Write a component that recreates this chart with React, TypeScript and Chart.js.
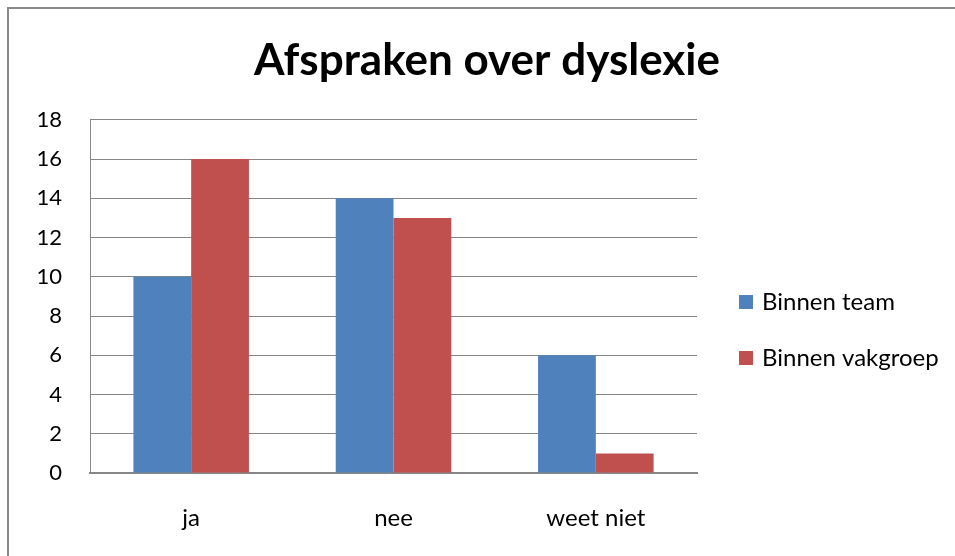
import React, { useEffect, useRef } from "react";
import { Chart, registerables } from "chart.js";

Chart.register(...registerables);

const categories = ["ja", "nee", "weet niet"];
const binnenTeam = [10, 14, 6];
const binnenVakgroep = [16, 13, 1];
const seriesNames = ["Binnen team", "Binnen vakgroep"];
const seriesColors = ["#4F81BD", "#C0504D"];
const yTicks = { min: 0, max: 18, step: 2 };

const FONT = "Lato, 'Liberation Sans', sans-serif";
const GRID = "#868686";

const framePlugin = {
  id: "frame",
  beforeDraw(chart: any) {
    const { ctx, width, height } = chart;
    ctx.save();
    ctx.fillStyle = "#ffffff";
    ctx.fillRect(0, 0, width, height);
    ctx.strokeStyle = "#8a8a8a";
    ctx.lineWidth = 2;
    ctx.beginPath();
    ctx.moveTo(8, height + 10);
    ctx.lineTo(8, 8);
    ctx.lineTo(width + 10, 8);
    ctx.stroke();
    ctx.restore();
  },
};

const sideLegendPlugin = {
  id: "sideLegend",
  afterDraw(chart: any) {
    const { ctx } = chart;
    const x0 = chart.chartArea.right + 42;
    const centerY = 330;
    const spacing = 56;
    const ds = chart.data.datasets;
    const startY = centerY - ((ds.length - 1) * spacing) / 2;
    ctx.save();
    ctx.font = `24px ${FONT}`;
    ctx.textBaseline = "middle";
    ctx.textAlign = "left";
    ds.forEach((d: any, i: number) => {
      const y = startY + i * spacing;
      ctx.fillStyle = d.backgroundColor;
      ctx.fillRect(x0, y - 7, 14, 14);
      ctx.fillStyle = "#000000";
      ctx.fillText(d.label, x0 + 23, y);
    });
    ctx.restore();
  },
};

export default function App() {
  const ref = useRef<HTMLCanvasElement>(null);

  useEffect(() => {
    document.body.style.margin = "0";
    const canvas = ref.current;
    if (!canvas) return;
    const chart = new Chart(canvas, {
      type: "bar",
      data: {
        labels: categories,
        datasets: [
          {
            label: seriesNames[0],
            data: binnenTeam,
            backgroundColor: seriesColors[0],
            categoryPercentage: 0.571,
            barPercentage: 1,
          },
          {
            label: seriesNames[1],
            data: binnenVakgroep,
            backgroundColor: seriesColors[1],
            categoryPercentage: 0.571,
            barPercentage: 1,
          },
        ],
      },
      options: {
        responsive: false,
        animation: false,
        layout: { padding: { left: 19, right: 0, top: 0, bottom: 0 } },
        plugins: {
          legend: { display: false },
          tooltip: { enabled: false },
          title: {
            display: true,
            text: "Afspraken over dyslexie",
            color: "#000000",
            font: { family: FONT, size: 44, weight: "bold", lineHeight: 1.2 },
            padding: { top: 34, bottom: 33 },
          },
        },
        scales: {
          x: {
            grid: { display: false, drawTicks: false },
            border: { display: true, color: GRID, width: 2 },
            ticks: {
              color: "#000000",
              font: { family: FONT, size: 24 },
              padding: 31,
            },
            afterFit(scale: any) {
              scale.height = 83;
            },
          },
          y: {
            min: yTicks.min,
            max: yTicks.max,
            grid: { color: GRID, lineWidth: 1, drawTicks: false },
            border: { display: true, color: GRID, width: 1 },
            ticks: {
              stepSize: yTicks.step,
              color: "#000000",
              font: { family: FONT, size: 22 },
              padding: 28,
            },
            afterFit(scale: any) {
              scale.width = 71;
            },
          },
          legendSpace: {
            type: "linear",
            position: "right",
            display: true,
            grid: { display: false, drawTicks: false },
            border: { display: false },
            ticks: { display: false },
            afterFit(scale: any) {
              scale.width = 258;
            },
          },
        },
      },
      plugins: [framePlugin, sideLegendPlugin],
    });
    return () => chart.destroy();
  }, []);

  return (
    <div style={{ width: 955, height: 556 }}>
      <canvas ref={ref} width={955} height={556} />
    </div>
  );
}
